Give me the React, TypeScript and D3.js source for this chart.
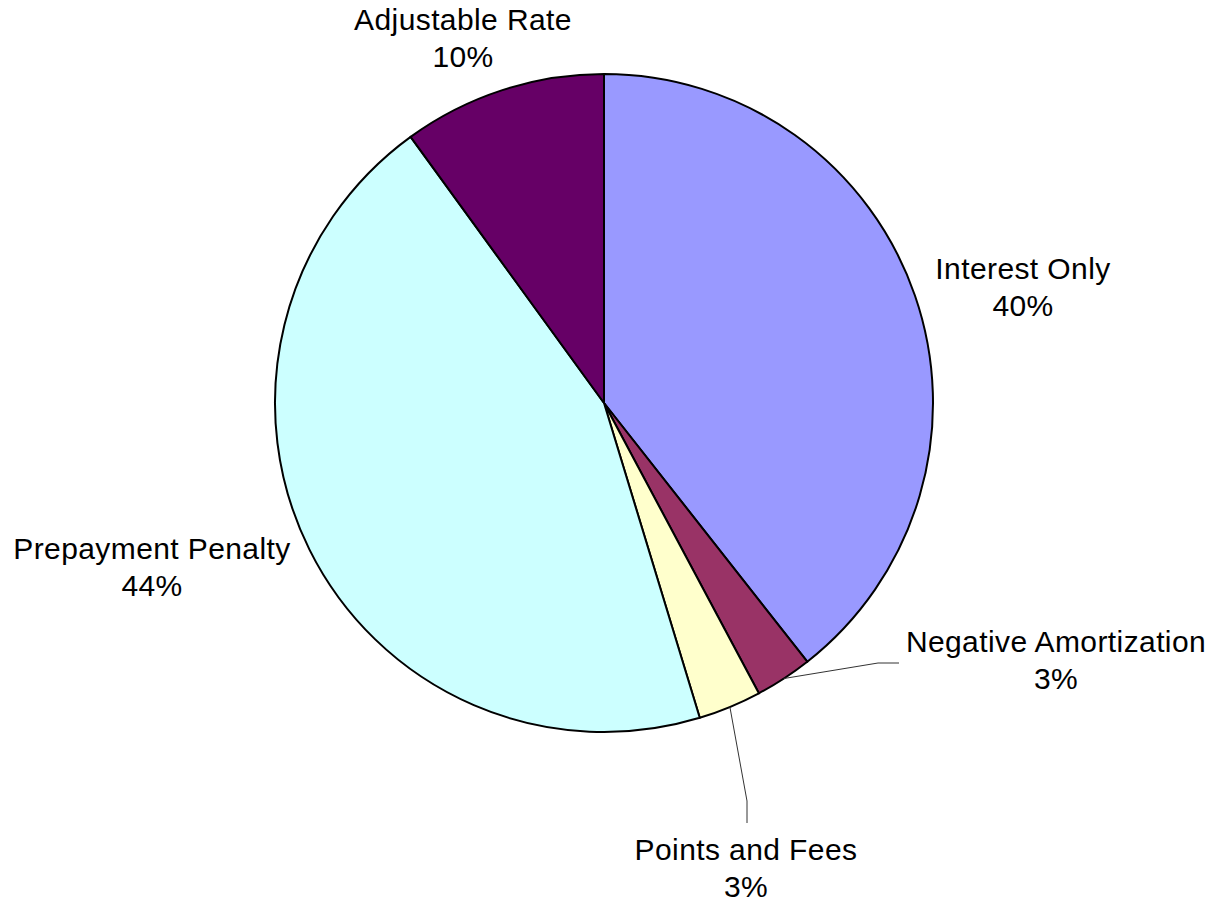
import React from "react";
import * as d3 from "d3";

const categories = ["Interest Only", "Negative Amortization", "Points and Fees", "Prepayment Penalty", "Adjustable Rate"];
const values = [39.4, 2.8, 3.1, 44.7, 10.0];
const percentLabels = ["40%", "3%", "3%", "44%", "10%"];
const colors = ["#9999FF", "#993366", "#FFFFCC", "#CCFFFF", "#660066"];

// label layout: [centerX, firstBaseline], optional leader [elbowX, elbowY, endX, endY]
const labelPos: [number, number][] = [
  [1023, 279],
  [1056, 652],
  [746, 860],
  [152, 559],
  [463, 30],
];
const leaders: (number[] | null)[] = [
  null,
  [878, 663, 899, 663],
  [747, 801, 747, 823],
  null,
  null,
];

const W = 1227;
const H = 905;
const cx = 604;
const cy = 403;
const R = 329;

export default function App() {
  const pie = d3.pie<number>().sort(null).value((d) => d)(values);
  const arc = d3.arc<d3.PieArcDatum<number>>().innerRadius(0).outerRadius(R);
  const font = "'Liberation Sans', Arial, sans-serif";
  return (
    <svg width={W} height={H} style={{ position: "absolute", left: 0, top: 0, background: "#fff" }}>
      <g transform={`translate(${cx},${cy})`}>
        {pie.map((p, i) => (
          <path key={i} d={arc(p) || ""} fill={colors[i]} stroke="#000" strokeWidth={2} strokeLinejoin="round" />
        ))}
      </g>
      {pie.map((p, i) => {
        const L = leaders[i];
        if (!L) return null;
        const mid = (p.startAngle + p.endAngle) / 2;
        const sx = cx + R * Math.sin(mid);
        const sy = cy - R * Math.cos(mid);
        return (
          <polyline
            key={"l" + i}
            points={`${sx},${sy} ${L[0]},${L[1]} ${L[2]},${L[3]}`}
            fill="none"
            stroke="#333"
            strokeWidth={1}
          />
        );
      })}
      {categories.map((c, i) => (
        <text
          key={"t" + i}
          x={labelPos[i][0]}
          y={labelPos[i][1]}
          textAnchor="middle"
          fontFamily={font}
          fontSize={30}
          letterSpacing={0.4}
          fill="#000"
        >
          <tspan x={labelPos[i][0]} y={labelPos[i][1]}>{c}</tspan>
          <tspan x={labelPos[i][0]} y={labelPos[i][1] + 37}>{percentLabels[i]}</tspan>
        </text>
      ))}
    </svg>
  );
}
